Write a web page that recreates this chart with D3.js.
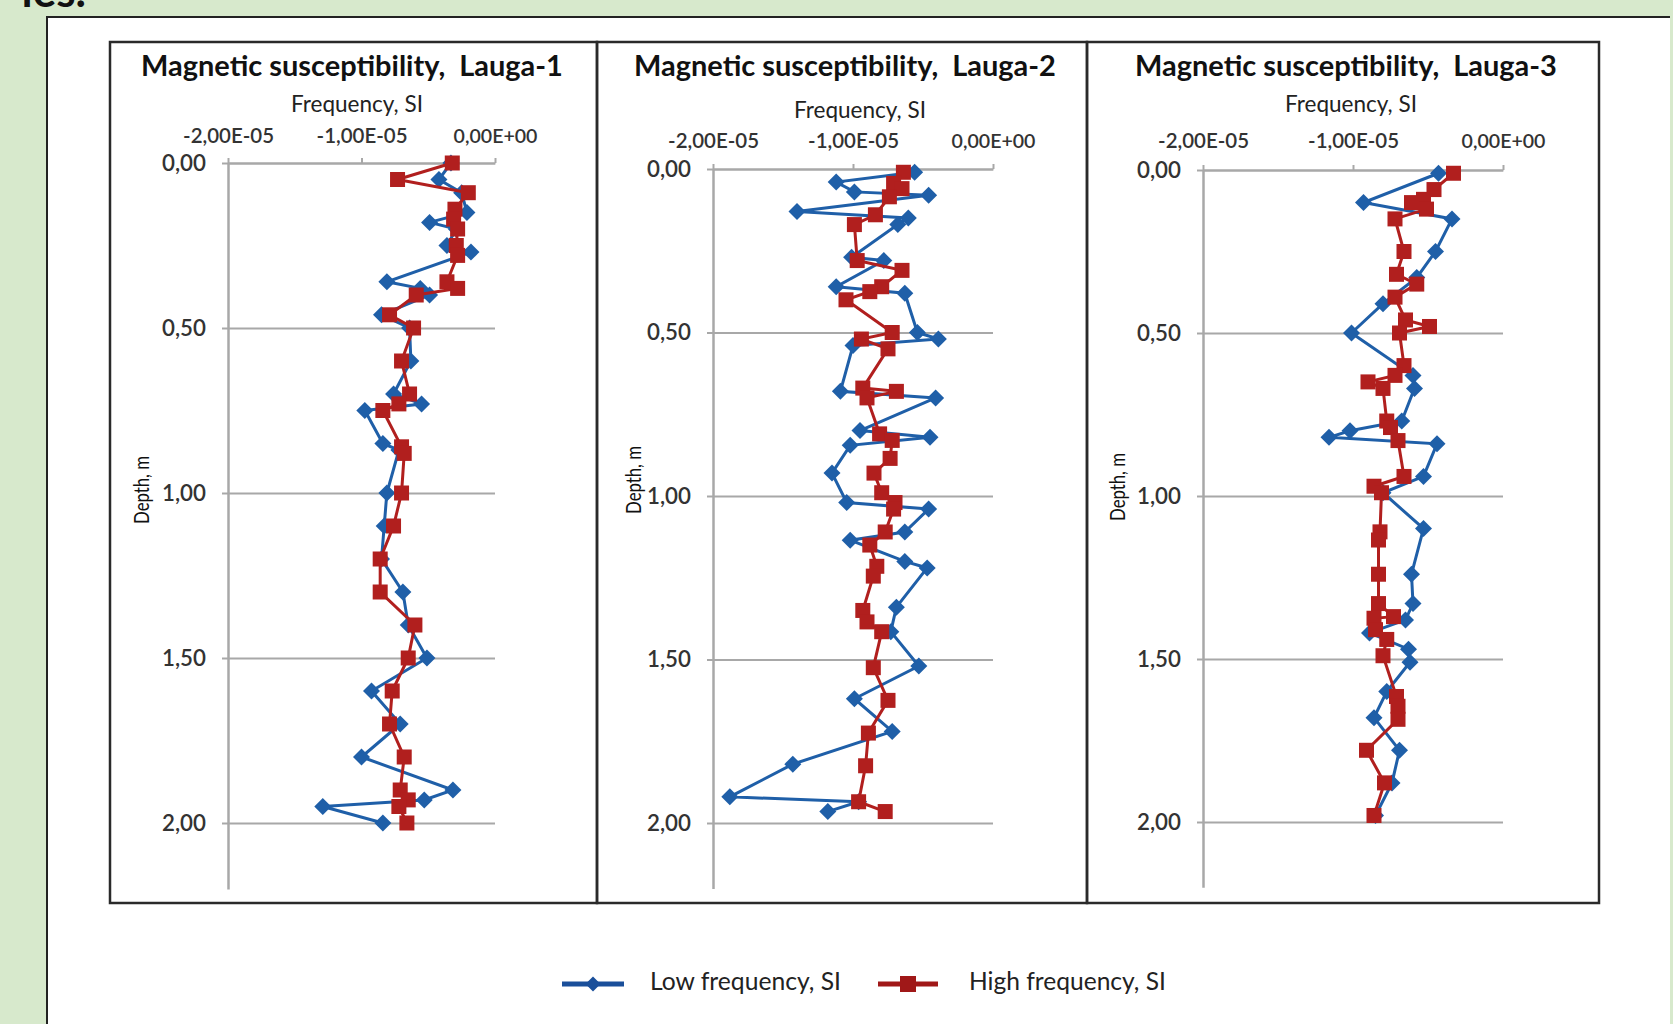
<!DOCTYPE html>
<html>
<head>
<meta charset="utf-8">
<script src="https://cdn.jsdelivr.net/npm/d3@7"></script>
<style>
  body { margin: 0; background: #d7e9cc; }
  svg { display: block; font-family: Lato, "Open Sans", sans-serif; }
  .title { white-space: pre; }
</style>
</head>
<body>
<svg id="chart" width="1673" height="1024"></svg>
<script>
// values, [depth m, susceptibility SI]
var titles = ["Magnetic susceptibility,  Lauga-1", "Magnetic susceptibility,  Lauga-2", "Magnetic susceptibility,  Lauga-3"];
var seriesNames = ["Low frequency, SI", "High frequency, SI"];
var freqTicks = [-2e-5, -1e-5, 0];
var depthTicks = [0, 0.5, 1, 1.5, 2];

var low1 = [[0.00,-3.3e-6],[0.05,-4.2e-6],[0.09,-2.5e-6],[0.15,-2.1e-6],[0.18,-4.9e-6],[0.20,-2.9e-6],[0.25,-3.6e-6],[0.27,-1.8e-6],
  [0.36,-8.1e-6],[0.38,-5.6e-6],[0.40,-4.9e-6],[0.46,-8.5e-6],[0.50,-6.4e-6],[0.60,-6.3e-6],[0.70,-7.6e-6],[0.73,-5.5e-6],
  [0.75,-9.75e-6],[0.85,-8.4e-6],[0.87,-7.2e-6],[1.00,-8.1e-6],[1.10,-8.3e-6],[1.20,-8.5e-6],[1.30,-6.9e-6],[1.40,-6.5e-6],
  [1.50,-5.1e-6],[1.60,-9.25e-6],[1.70,-7.1e-6],[1.80,-1.0e-5],[1.90,-3.15e-6],[1.93,-5.3e-6],[1.95,-1.29e-5],[2.00,-8.4e-6]];
var high1 = [[0.00,-3.2e-6],[0.05,-7.3e-6],[0.09,-2.0e-6],[0.14,-3.0e-6],[0.17,-3.1e-6],[0.20,-2.8e-6],[0.25,-2.9e-6],[0.28,-2.8e-6],
  [0.36,-3.6e-6],[0.38,-2.8e-6],[0.40,-5.9e-6],[0.46,-7.9e-6],[0.50,-6.1e-6],[0.60,-7.0e-6],[0.70,-6.4e-6],[0.73,-7.2e-6],
  [0.75,-8.4e-6],[0.86,-7.0e-6],[0.88,-6.8e-6],[1.00,-7.0e-6],[1.10,-7.6e-6],[1.20,-8.6e-6],[1.30,-8.6e-6],[1.40,-6.0e-6],
  [1.50,-6.5e-6],[1.60,-7.7e-6],[1.70,-7.9e-6],[1.80,-6.8e-6],[1.90,-7.1e-6],[1.93,-6.5e-6],[1.95,-7.2e-6],[2.00,-6.6e-6]];

var low2 = [[0.01,-5.6e-6],[0.04,-11.2e-6],[0.07,-9.9e-6],[0.08,-4.6e-6],[0.13,-14.0e-6],[0.15,-6.05e-6],[0.17,-6.8e-6],[0.27,-10.1e-6],
  [0.28,-7.8e-6],[0.36,-11.2e-6],[0.38,-6.3e-6],[0.50,-5.4e-6],[0.52,-3.9e-6],[0.54,-10.0e-6],[0.68,-10.9e-6],[0.70,-4.1e-6],
  [0.80,-9.5e-6],[0.82,-4.5e-6],[0.845,-10.2e-6],[0.93,-11.5e-6],[1.02,-10.45e-6],[1.04,-4.6e-6],[1.11,-6.3e-6],[1.135,-10.2e-6],
  [1.20,-6.3e-6],[1.22,-4.7e-6],[1.34,-6.9e-6],[1.415,-7.3e-6],[1.52,-5.3e-6],[1.62,-9.9e-6],[1.72,-7.2e-6],[1.82,-14.3e-6],
  [1.92,-18.8e-6],[1.935,-9.6e-6],[1.965,-11.8e-6]];
var high2 = [[0.01,-6.4e-6],[0.044,-7.1e-6],[0.06,-6.5e-6],[0.085,-7.4e-6],[0.14,-8.4e-6],[0.17,-9.9e-6],[0.28,-9.7e-6],[0.31,-6.5e-6],
  [0.36,-7.95e-6],[0.375,-8.8e-6],[0.40,-10.5e-6],[0.50,-7.2e-6],[0.52,-9.4e-6],[0.55,-7.5e-6],[0.67,-9.3e-6],[0.68,-6.9e-6],
  [0.70,-9.0e-6],[0.81,-8.1e-6],[0.83,-7.2e-6],[0.885,-7.35e-6],[0.93,-8.5e-6],[0.99,-7.95e-6],[1.02,-7.0e-6],[1.04,-7.1e-6],
  [1.11,-7.7e-6],[1.15,-8.8e-6],[1.215,-8.3e-6],[1.245,-8.55e-6],[1.35,-9.3e-6],[1.385,-9.0e-6],[1.415,-7.95e-6],[1.525,-8.55e-6],
  [1.625,-7.5e-6],[1.725,-8.9e-6],[1.825,-9.1e-6],[1.935,-9.6e-6],[1.965,-7.7e-6]];

var low3 = [[0.01,-4.3e-6],[0.10,-9.3e-6],[0.15,-3.4e-6],[0.25,-4.5e-6],[0.33,-5.75e-6],[0.41,-8.0e-6],[0.50,-10.1e-6],[0.63,-6.0e-6],
  [0.67,-5.9e-6],[0.77,-6.75e-6],[0.80,-10.2e-6],[0.82,-11.6e-6],[0.84,-4.4e-6],[0.94,-5.3e-6],[0.99,-8.0e-6],[1.10,-5.3e-6],
  [1.24,-6.1e-6],[1.33,-6.0e-6],[1.38,-6.5e-6],[1.42,-8.9e-6],[1.47,-6.3e-6],[1.51,-6.2e-6],[1.60,-7.75e-6],[1.68,-8.6e-6],
  [1.78,-6.9e-6],[1.88,-7.4e-6],[1.98,-8.5e-6]];
var high3 = [[0.01,-3.3e-6],[0.06,-4.6e-6],[0.09,-5.3e-6],[0.10,-6.1e-6],[0.12,-5.1e-6],[0.15,-7.2e-6],[0.25,-6.6e-6],[0.32,-7.1e-6],
  [0.35,-5.75e-6],[0.39,-7.2e-6],[0.46,-6.5e-6],[0.48,-4.9e-6],[0.50,-6.9e-6],[0.60,-6.6e-6],[0.63,-7.2e-6],[0.65,-9.0e-6],
  [0.67,-8.0e-6],[0.77,-7.75e-6],[0.79,-7.5e-6],[0.83,-7.0e-6],[0.94,-6.6e-6],[0.97,-8.6e-6],[0.99,-8.1e-6],[1.11,-8.2e-6],
  [1.135,-8.3e-6],[1.24,-8.3e-6],[1.33,-8.3e-6],[1.37,-7.3e-6],[1.375,-8.6e-6],[1.41,-8.5e-6],[1.44,-7.75e-6],[1.49,-8.0e-6],
  [1.615,-7.1e-6],[1.645,-7.0e-6],[1.685,-7.0e-6],[1.78,-9.1e-6],[1.88,-7.9e-6],[1.98,-8.6e-6]];

var blue = "#1f5fa8", red = "#b11f1e", grid = "#a8a8a8";

// layout of the three panels
var panels = [
  {left: 110, right: 597, x0: 228, x1: 495, y0: 163, perM: 330, tx: 352, fx: 357, fy: 106, tickY: 136, dx: 142, dy: 490, low: low1, high: high1},
  {left: 597, right: 1087, x0: 713, x1: 993, y0: 169, perM: 327, tx: 845, fx: 860, fy: 112, tickY: 141, dx: 634, dy: 480, low: low2, high: high2},
  {left: 1087, right: 1599, x0: 1203, x1: 1503, y0: 170, perM: 326, tx: 1346, fx: 1351, fy: 106, tickY: 141, dx: 1118, dy: 487, low: low3, high: high3}
];

var svg = d3.select("#chart");

function fit(t, w) {
  var len = t.node().getComputedTextLength();
  t.attr("font-size", parseFloat(t.attr("font-size")) * w / len);
  return t;
}

function sci(v) {
  if (v === 0) return "0,00E+00";
  var e = Math.floor(Math.log10(Math.abs(v)) + 1e-9);
  var m = v / Math.pow(10, e);
  var es = (e < 0 ? "-" : "+") + String(Math.abs(e)).padStart(2, "0");
  return m.toFixed(2).replace(".", ",") + "E" + es;
}

function diamond(s) {
  return "M0," + (-s) + "L" + s + ",0L0," + s + "L" + (-s) + ",0Z";
}

// slide background bits
svg.append("text").attr("x", 86).attr("y", 7).attr("text-anchor", "end")
  .attr("font-size", 44).attr("font-weight", 700).attr("fill", "#111").text("ies.");
svg.append("rect").attr("x", 47).attr("y", 17).attr("width", 1623).attr("height", 1020).attr("fill", "#fff");
svg.append("line").attr("x1", 46).attr("x2", 1670).attr("y1", 17).attr("y2", 17).attr("stroke", "#222").attr("stroke-width", 2);
svg.append("line").attr("x1", 47).attr("x2", 47).attr("y1", 16).attr("y2", 1024).attr("stroke", "#222").attr("stroke-width", 2);

panels.forEach(function(p, i) {
  var g = svg.append("g");
  var x = d3.scaleLinear().domain([-2e-5, 0]).range([p.x0, p.x1]);
  var y = d3.scaleLinear().domain([0, 2.2]).range([p.y0, p.y0 + 2.2 * p.perM]);

  g.append("rect").attr("x", p.left).attr("y", 42).attr("width", p.right - p.left).attr("height", 861)
    .attr("fill", "none").attr("stroke", "#2a2a2a").attr("stroke-width", 2.5);

  fit(g.append("text").attr("class", "title").attr("x", p.tx).attr("y", 76).attr("text-anchor", "middle")
    .attr("font-size", 22).attr("font-weight", 700).attr("fill", "#111").text(titles[i]), 422);
  fit(g.append("text").attr("x", p.fx).attr("y", p.fy + 6).attr("text-anchor", "middle")
    .attr("font-size", 16).attr("fill", "#222").text("Frequency, SI"), 132);

  // depth label: Calibri-like narrow text, so squeeze along its length
  var dl = g.append("text").attr("text-anchor", "middle").attr("font-size", 21).attr("fill", "#111").text("Depth, m");
  var dlen = dl.node().getComputedTextLength();
  dl.attr("transform", "translate(" + (p.dx + 7) + "," + p.dy + ") rotate(-90) scale(" + (68 / dlen) + ",1)");

  // depth axis with gridlines
  var ya = g.append("g").attr("transform", "translate(" + p.x0 + ",0)")
    .call(d3.axisLeft(y).tickValues(depthTicks).tickSizeInner(6).tickSizeOuter(0).tickPadding(16)
      .tickFormat(function(d) { return d.toFixed(2).replace(".", ","); }));
  ya.selectAll(".tick").append("line").attr("x2", p.x1 - p.x0).attr("stroke", grid).attr("stroke-width", 2);
  ya.selectAll("line").attr("stroke", grid).attr("stroke-width", 2);
  ya.select(".domain").attr("stroke", grid).attr("stroke-width", 2.5);
  ya.selectAll("text").attr("fill", "#333").attr("font-size", 20).attr("font-weight", 600).attr("font-family", "Lato")
    .each(function() { fit(d3.select(this), 44); });

  // frequency axis on top
  var xa = g.append("g").attr("transform", "translate(0," + p.y0 + ")")
    .call(d3.axisTop(x).tickValues(freqTicks).tickSizeInner(5).tickSizeOuter(0).tickPadding(p.y0 - p.tickY - 12)
      .tickFormat(sci));
  xa.selectAll("line").attr("stroke", grid).attr("stroke-width", 2);
  xa.select(".domain").attr("stroke", grid).attr("stroke-width", 2);
  xa.selectAll("text").attr("fill", "#333").attr("font-size", 20).attr("font-weight", 600).attr("font-family", "Lato")
    .each(function() {
      var t = d3.select(this);
      fit(t, t.text().length === 9 ? 91 : 84);
    });

  var line = d3.line().x(function(d) { return x(d[1]); }).y(function(d) { return y(d[0]); });

  g.append("path").datum(p.low).attr("d", line).attr("fill", "none").attr("stroke", blue).attr("stroke-width", 3);
  g.selectAll(".lo").data(p.low).enter().append("path").attr("class", "lo")
    .attr("transform", function(d) { return "translate(" + x(d[1]) + "," + y(d[0]) + ")"; })
    .attr("d", diamond(8.5)).attr("fill", blue);

  g.append("path").datum(p.high).attr("d", line).attr("fill", "none").attr("stroke", red).attr("stroke-width", 3);
  g.selectAll(".hi").data(p.high).enter().append("rect").attr("class", "hi")
    .attr("x", function(d) { return x(d[1]) - 7.5; }).attr("y", function(d) { return y(d[0]) - 7.5; })
    .attr("width", 15).attr("height", 15).attr("fill", red);
});

// legend
var lg = svg.append("g").attr("transform", "translate(0,984)");
lg.append("line").attr("x1", 562).attr("x2", 624).attr("stroke", "#1a4f9a").attr("stroke-width", 5);
lg.append("path").attr("transform", "translate(593,0)").attr("d", diamond(7.5)).attr("fill", "#1a4f9a");
fit(lg.append("text").attr("x", 650).attr("y", 6).attr("font-size", 18).attr("fill", "#222").text(seriesNames[0]), 191);
lg.append("line").attr("x1", 878).attr("x2", 938).attr("stroke", "#a01818").attr("stroke-width", 5);
lg.append("rect").attr("x", 900).attr("y", -8).attr("width", 16).attr("height", 16).attr("fill", "#a01818");
fit(lg.append("text").attr("x", 969).attr("y", 6).attr("font-size", 18).attr("fill", "#222").text(seriesNames[1]), 197);
</script>
</body>
</html>
